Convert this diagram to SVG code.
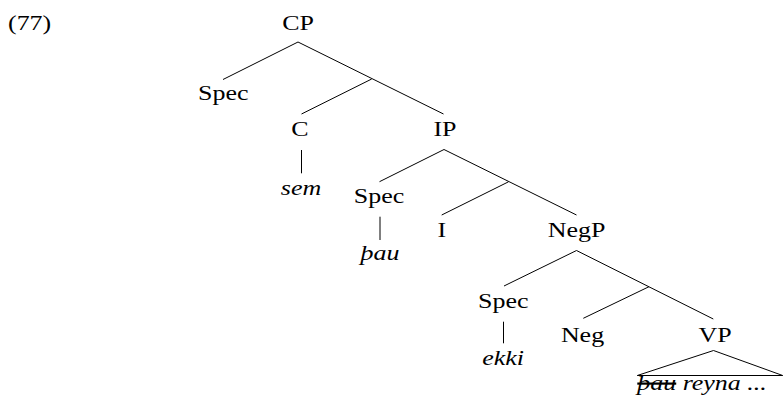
<svg xmlns="http://www.w3.org/2000/svg" width="783" height="404" viewBox="0 0 783 404">
<style>
text{font-family:"Liberation Serif","Times New Roman",serif;font-size:22px;fill:#000}
.n{text-anchor:middle}
.it{font-style:italic}
line,polygon{stroke:#000;stroke-width:1;fill:none}
</style>
<rect width="783" height="404" fill="#fff"/>
<g id="label77"><text transform="translate(8,30) scale(1.18 1)">(77)</text></g>
<g id="connectors">
<line x1="298" y1="42" x2="223" y2="79.5"/>
<line x1="298" y1="42" x2="443.5" y2="114"/>
<line x1="371.7" y1="79" x2="301.5" y2="114"/>
<line x1="301.5" y1="150" x2="301.5" y2="173.3"/>
<line x1="444" y1="149.5" x2="379.5" y2="181.7"/>
<line x1="444" y1="149.5" x2="576.5" y2="215"/>
<line x1="508.5" y1="181.8" x2="441.7" y2="215"/>
<line x1="380" y1="216.7" x2="380" y2="240"/>
<line x1="576.5" y1="250.5" x2="504" y2="286"/>
<line x1="576.5" y1="250.5" x2="713.3" y2="319"/>
<line x1="649" y1="286.7" x2="583.3" y2="318.3"/>
<line x1="503.5" y1="321.7" x2="503.5" y2="343.3"/>
<polygon points="713.5,350.5 637.3,375.5 782.7,375.5"/>
</g>
<g id="CP"><text class="n" transform="translate(298,29.5) scale(1.18 1)">CP</text></g>
<g id="Spec1"><text class="n" transform="translate(223.3,100) scale(1.18 1)">Spec</text></g>
<g id="C"><text class="n" transform="translate(300,136) scale(1.18 1)">C</text></g>
<g id="sem"><text class="n it" transform="translate(301,195) scale(1.18 1)">sem</text></g>
<g id="IP"><text class="n" transform="translate(445,136) scale(1.18 1)">IP</text></g>
<g id="Spec2"><text class="n" transform="translate(379,203.3) scale(1.18 1)">Spec</text></g>
<g id="thau"><text class="n it" transform="translate(380,260) scale(1.18 1)">þau</text></g>
<g id="I"><text class="n" transform="translate(441.7,237.3) scale(1.18 1)">I</text></g>
<g id="NegP"><text class="n" transform="translate(576.7,237.3) scale(1.18 1)">NegP</text></g>
<g id="Spec3"><text class="n" transform="translate(503.3,308.3) scale(1.18 1)">Spec</text></g>
<g id="ekki"><text class="n it" transform="translate(503,365) scale(1.18 1)">ekki</text></g>
<g id="Neg"><text class="n" transform="translate(582.5,341.5) scale(1.18 1)">Neg</text></g>
<g id="VP"><text class="n" transform="translate(715,341.5) scale(1.18 1)">VP</text></g>
<g id="VPcontent"><text class="it" transform="translate(637.3,390) scale(1.18 1)"><tspan text-decoration="line-through">þau</tspan> reyna ...</text></g>
</svg>
